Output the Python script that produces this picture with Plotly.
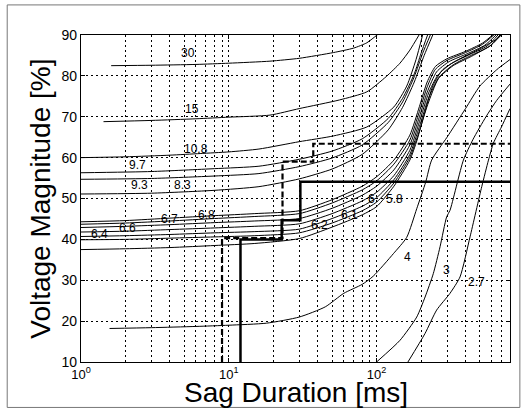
import math
import plotly.graph_objects as go

# ---- contour curves (sag duration [ms], voltage magnitude [%]) ----
c30_x = [1.6, 3, 6, 10, 19, 30, 51, 70, 86, 100, 104]
c30_y = [82.5, 82.6, 82.8, 83.1, 83.6, 84.3, 85.7, 86.8, 88.1, 89.9, 90.4]

c15_x = [1.42, 3, 6, 10, 19, 30, 56, 86, 116, 144, 168, 196]
c15_y = [68.8, 69.1, 69.5, 69.9, 70.4, 72.0, 74.1, 76.1, 79.8, 83.1, 86.3, 90.3]

c108_x = [1, 2, 4, 6.4, 10, 16, 30, 51, 86, 131, 160, 185, 206]
c108_y = [60.0, 60.2, 60.6, 61.0, 61.4, 62.1, 63.9, 65.3, 67.5, 72.4, 77.5, 84.0, 90.3]

c97_x = [1, 3, 8, 16, 30, 50, 80, 120, 150, 180, 200, 223]
c97_y = [56.3, 56.6, 57.3, 57.9, 59.6, 61.6, 64.6, 69.6, 74.5, 80.5, 85.5, 90.3]

c93_x = [1, 3, 8, 16, 30, 50, 80, 120, 150, 180, 205, 233]
c93_y = [54.7, 54.9, 55.5, 56.1, 57.8, 59.9, 63.1, 68.6, 73.6, 79.8, 85.5, 90.3]

c83_x = [1, 3, 8, 16, 30, 50, 80, 120, 150, 180, 210, 242]
c83_y = [51.1, 51.3, 52.0, 52.9, 54.8, 57.2, 60.8, 66.8, 72.3, 78.5, 85.0, 90.3]

# bundle of 6.x curves
b1_x = [1, 2, 4, 8, 15, 30, 50, 80, 100, 131, 168, 195, 220, 250, 300, 400, 520, 625]
b1_y = [44.3, 44.6, 45.2, 45.8, 46.3, 47.0, 49.7, 53.0, 55.3, 59.4, 65.5, 72.5, 78.5, 82.3, 84.2, 86.0, 88.0, 90.3]
b2_x = [1, 2, 4, 8, 15, 30, 50, 80, 100, 131, 168, 195, 220, 250, 300, 400, 520, 635]
b2_y = [43.7, 44.0, 44.5, 45.1, 45.6, 46.3, 48.9, 52.1, 54.3, 58.4, 64.3, 71.3, 77.3, 81.6, 83.8, 85.7, 87.7, 90.3]
b3_x = [1, 2, 4, 8, 15, 30, 50, 80, 100, 131, 168, 195, 220, 255, 310, 410, 540, 655]
b3_y = [42.9, 43.2, 43.6, 44.1, 44.5, 45.1, 47.6, 50.8, 53.0, 57.0, 63.1, 70.0, 76.0, 81.0, 83.5, 85.4, 87.5, 90.3]
b4_x = [1, 2, 4, 8, 15, 30, 50, 80, 100, 131, 168, 195, 225, 260, 320, 420, 560, 675]
b4_y = [41.8, 42.0, 42.4, 42.8, 43.2, 43.8, 46.3, 49.4, 51.5, 55.6, 61.8, 68.8, 75.8, 80.2, 83.0, 85.1, 87.3, 90.3]
b5_x = [1, 2, 4, 8, 15, 30, 50, 80, 100, 131, 168, 195, 225, 265, 330, 430, 580, 695]
b5_y = [40.7, 40.9, 41.2, 41.6, 41.9, 42.5, 45.1, 48.1, 50.2, 54.6, 60.8, 67.6, 74.6, 79.7, 82.7, 84.9, 87.2, 90.3]
b6_x = [1, 2, 4, 8, 15, 30, 50, 80, 100, 131, 168, 192, 222, 262, 330, 440, 600, 705]
b6_y = [39.9, 40.0, 40.3, 40.6, 40.9, 41.6, 44.0, 47.0, 49.1, 53.8, 60.1, 65.8, 73.0, 79.3, 82.5, 84.8, 87.6, 90.3]
b7_x = [1, 2, 4, 8, 15, 30, 50, 80, 100, 131, 168, 188, 210, 240, 280, 350, 480, 650, 715]
b7_y = [37.5, 37.7, 38.0, 38.5, 39.0, 40.2, 43.0, 46.0, 48.0, 53.0, 59.4, 64.3, 70.5, 77.5, 81.5, 83.8, 86.3, 89.0, 90.3]

c4_x = [1.56, 3, 6, 10, 18, 30, 45, 60, 80, 95, 130, 160, 187, 215, 236, 300, 400, 500, 650, 800]
c4_y = [18.2, 18.4, 18.7, 19.0, 19.5, 21.0, 23.5, 26.8, 29.0, 31.0, 36.5, 40.5, 47.5, 54.0, 59.4, 65.0, 72.0, 77.5, 81.5, 84.0]

c3_x = [100, 144, 187, 213, 242, 269, 298, 314, 387, 450, 550, 650, 800]
c3_y = [10.0, 15.3, 21.0, 25.9, 31.6, 38.2, 45.5, 47.1, 59.4, 64.5, 70.0, 74.0, 78.0]

c27_x = [163, 213, 255, 314, 367, 429, 515, 572, 617, 700, 800]
c27_y = [10.0, 17.0, 22.7, 26.8, 30.8, 40.6, 52.9, 59.4, 63.5, 67.5, 72.0]

# step limit curves
solid_x = [12.0, 12.0, 22.8, 22.8, 30.5, 30.5, 800]
solid_y = [10, 40.0, 40.0, 44.7, 44.7, 54.1, 54.1]
dash_x = [9.0, 9.0, 23.1, 23.1, 37.3, 37.3, 800]
dash_y = [10, 40.3, 40.3, 59.0, 59.0, 63.4, 63.4]

# contour labels
lab_text = ["30", "15", "10.8", "9.7", "9.3", "8.3", "6.4", "6.6", "6.7", "6.8",
            "6.2", "6.1", "6", "5.8", "4", "3", "2.7"]
lab_x = [5.3, 5.65, 6.0, 2.42, 2.48, 4.88, 1.33, 2.07, 3.97, 7.03,
         41.3, 65.3, 92.3, 133, 163, 297, 474]
lab_y = [85.5, 71.8, 62.0, 58.2, 53.3, 53.4, 41.4, 42.7, 44.9, 45.9,
         43.5, 45.9, 49.8, 49.8, 35.7, 32.5, 29.6]

x_major = [1, 10, 100]
x_major_text = ["10<sup>0</sup>", "10<sup>1</sup>", "10<sup>2</sup>"]
y_ticks = [10, 20, 30, 40, 50, 60, 70, 80, 90]

fig = go.Figure()

curves = [(c30_x, c30_y), (c15_x, c15_y), (c108_x, c108_y), (c97_x, c97_y),
          (c93_x, c93_y), (c83_x, c83_y), (b1_x, b1_y), (b2_x, b2_y), (b3_x, b3_y),
          (b4_x, b4_y), (b5_x, b5_y), (b6_x, b6_y), (b7_x, b7_y),
          (c4_x, c4_y), (c3_x, c3_y), (c27_x, c27_y)]
for cx, cy in curves:
    fig.add_trace(go.Scatter(x=cx, y=cy, mode="lines",
                             line=dict(color="black", width=1, shape="spline", smoothing=0.6),
                             showlegend=False, hoverinfo="skip"))

fig.add_trace(go.Scatter(x=solid_x, y=solid_y, mode="lines",
                         line=dict(color="black", width=2.5), showlegend=False))
fig.add_trace(go.Scatter(x=dash_x, y=dash_y, mode="lines",
                         line=dict(color="black", width=2.2, dash="6px,3px"), showlegend=False))

for t, lx, ly in zip(lab_text, lab_x, lab_y):
    fig.add_annotation(x=math.log10(lx), y=ly, xref="x", yref="y", text=t, showarrow=False,
                       font=dict(family="Arial", size=12, color="black"))

# minor grid positions for the log axis (2..9 multiples)
minor_vals = []
for d in [1, 10, 100]:
    for m in range(2, 10):
        v = d * m
        if v <= 800:
            minor_vals.append(v)

fig.update_xaxes(type="log", range=[0, 2.903], tickvals=x_major, ticktext=x_major_text,
                 showgrid=True, gridcolor="black", griddash="2px,3px", gridwidth=1,
                 minor=dict(tickvals=minor_vals, showgrid=True, gridcolor="black",
                            griddash="2px,3px", gridwidth=1, ticks="inside", ticklen=2,
                            tickcolor="black"),
                 showline=True, linecolor="black", linewidth=1.2, mirror="ticks",
                 ticks="inside", ticklen=4, tickcolor="black",
                 tickfont=dict(family="Arial", size=13, color="black"), zeroline=False)
fig.update_yaxes(range=[10, 90], tickvals=y_ticks,
                 showgrid=True, gridcolor="black", griddash="2px,3px", gridwidth=1,
                 showline=True, linecolor="black", linewidth=1.2, mirror="ticks",
                 ticks="inside", ticklen=4, tickcolor="black",
                 tickfont=dict(family="Arial", size=14, color="black"), zeroline=False)

fig.add_annotation(text="Voltage Magnitude [%]", xref="paper", yref="paper",
                   x=-0.095, y=0.5, xanchor="center", yanchor="middle", textangle=-90,
                   showarrow=False, font=dict(family="Arial", size=28, color="black"))
fig.add_annotation(text="Sag Duration [ms]", xref="paper", yref="paper",
                   x=0.5, y=-0.092, xanchor="center", yanchor="middle", showarrow=False,
                   font=dict(family="Arial", size=28, color="black"))

# scanned outer frame
fig.add_shape(type="rect", xref="paper", yref="paper",
              x0=-0.172, x1=1.023, y0=-0.139, y1=1.092,
              line=dict(color="#777", width=1))

fig.update_layout(width=527, height=410, margin=dict(l=81, r=17, t=35, b=48),
                  plot_bgcolor="white", paper_bgcolor="white", showlegend=False)

fig.write_html("out.html", config={"displayModeBar": False},
               post_script="document.body.style.margin='0';document.body.style.padding='0';")
